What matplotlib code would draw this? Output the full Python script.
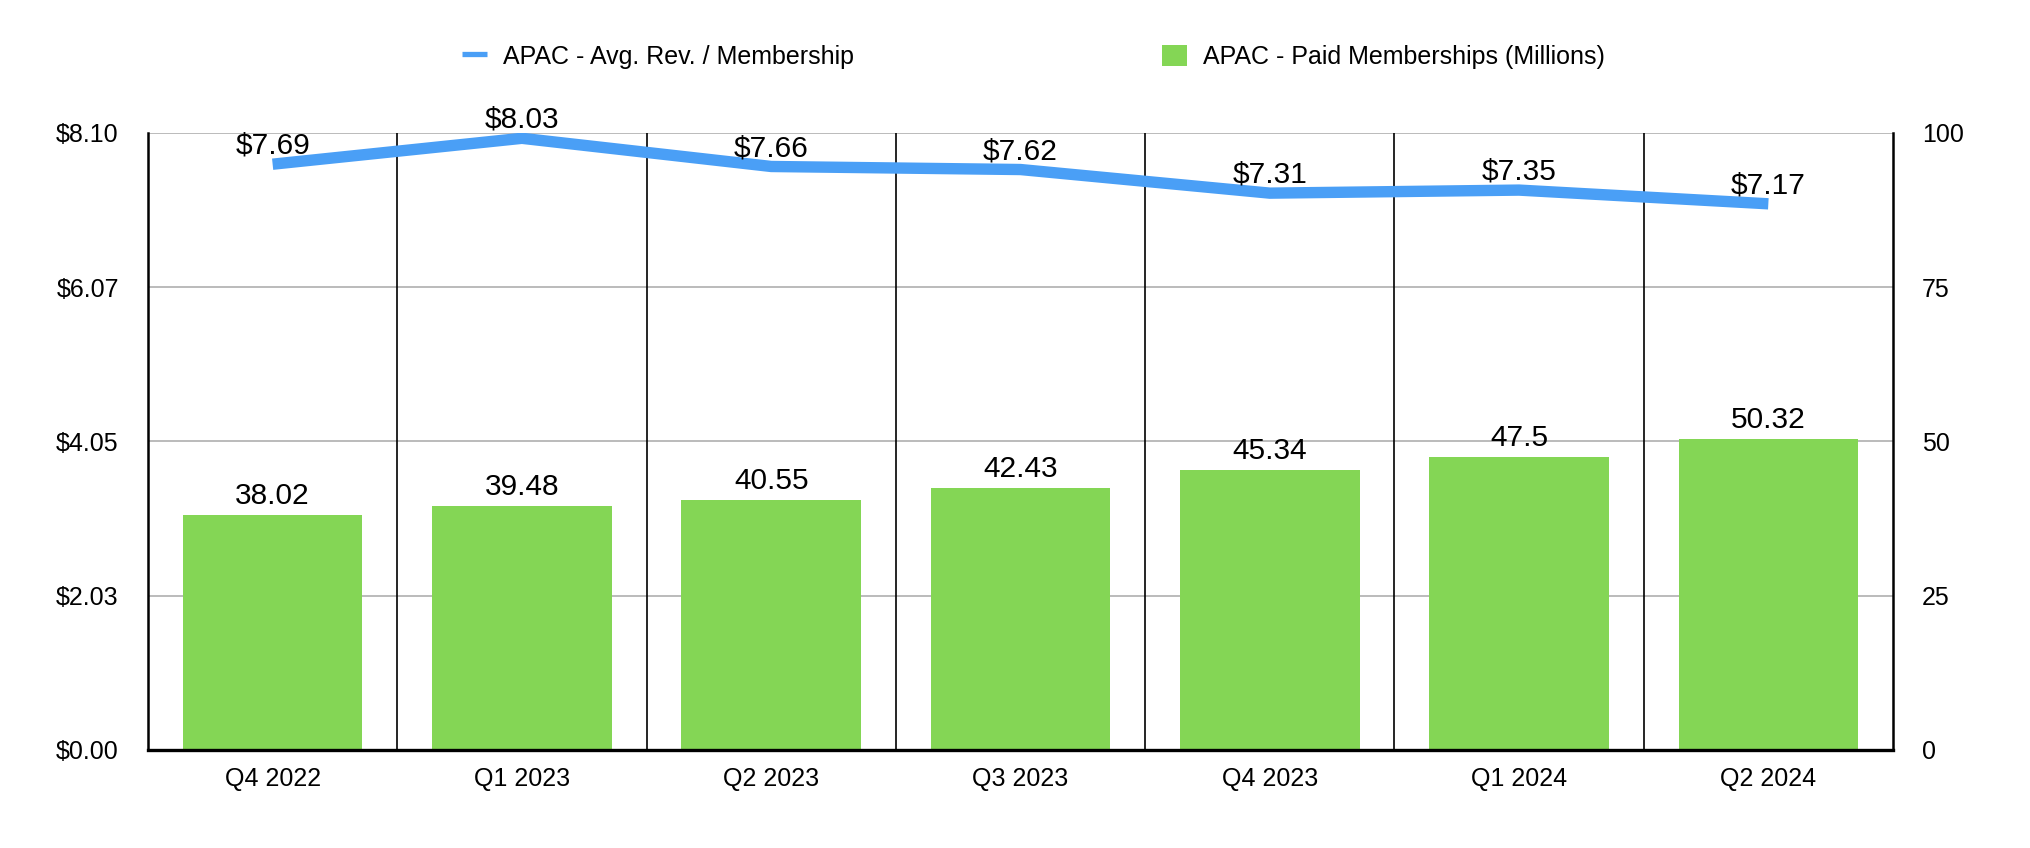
import matplotlib
matplotlib.use('Agg')
import matplotlib.pyplot as plt
from matplotlib.lines import Line2D
from matplotlib.patches import Patch

quarters = ['Q4 2022', 'Q1 2023', 'Q2 2023', 'Q3 2023', 'Q4 2023', 'Q1 2024', 'Q2 2024']
avg_rev = [7.69, 8.03, 7.66, 7.62, 7.31, 7.35, 7.17]
paid_members = [38.02, 39.48, 40.55, 42.43, 45.34, 47.5, 50.32]
left_ticks = [0, 2.025, 4.05, 6.075, 8.10]
left_tick_labels = ['$0.00', '$2.03', '$4.05', '$6.07', '$8.10']
right_ticks = [0, 25, 50, 75, 100]
line_name = 'APAC - Avg. Rev. / Membership'
bar_name = 'APAC - Paid Memberships (Millions)'

BLUE = '#4A9FF6'
GREEN = '#84D655'

plt.rcParams['font.family'] = ['Liberation Sans', 'DejaVu Sans']

fig = plt.figure(figsize=(20.3, 8.48), dpi=100)
ax = fig.add_axes([0.0729, 0.1156, 0.8596, 0.7276])
ax2 = ax.twinx()
x = list(range(len(quarters)))

# Bars (right scale)
ax.bar(x, paid_members, width=0.72, color=GREEN, zorder=2)
ax.set_xlim(-0.5, len(quarters) - 0.5)
ax.set_ylim(0, 100)
ax.set_yticks(right_ticks)
ax.set_yticklabels([str(t) for t in right_ticks])
ax.yaxis.set_ticks_position('right')
ax.yaxis.set_label_position('right')
ax.set_xticks(x)
ax.set_xticklabels(quarters)
ax.set_axisbelow(True)
ax.grid(axis='y', color='#b5b5b5', lw=1.3, zorder=0)
ax.grid(axis='x', visible=False)
for i in range(len(quarters) - 1):
    ax.axvline(i + 0.5, color='black', lw=1.2, zorder=3)
ax.tick_params(axis='y', which='both', left=False, labelleft=False, right=False,
               labelright=True, length=0, labelsize=18, pad=21)
ax.tick_params(axis='x', length=0, labelsize=18, pad=12)
for v_i, v in zip(x, paid_members):
    ax.annotate(f"{v:g}", (v_i, v), xytext=(0, 8), textcoords='offset points',
                ha='center', va='baseline', fontsize=21.5, zorder=5)

ax.spines['top'].set_visible(False)
for s in ['left', 'right']:
    ax.spines[s].set_linewidth(1.8)
    ax.spines[s].set_color('black')
ax.spines['bottom'].set_linewidth(2.4)
ax.spines['bottom'].set_color('black')

# Line (left scale)
ax2.plot(x, avg_rev, color=BLUE, lw=8.2, solid_capstyle='butt', solid_joinstyle='round', zorder=4)
ax2.set_ylim(0, 8.10)
ax2.set_yticks(left_ticks)
ax2.set_yticklabels(left_tick_labels)
ax2.yaxis.set_ticks_position('left')
ax2.yaxis.set_label_position('left')
ax2.tick_params(axis='y', which='both', right=False, labelright=False, left=False,
                labelleft=True, length=0, labelsize=18, pad=21)
for sp in ax2.spines.values():
    sp.set_visible(False)
for v_i, v in zip(x, avg_rev):
    ax2.annotate(f"${v:.2f}", (v_i, v), xytext=(0, 7.5), textcoords='offset points',
                 ha='center', va='baseline', fontsize=21.5, zorder=5)

handles = [Line2D([0], [0], color=BLUE, lw=3.8, solid_capstyle='butt'),
           Patch(facecolor=GREEN, edgecolor='none')]
fig.legend(handles, [line_name, bar_name], loc='center', bbox_to_anchor=(0.509, 0.933),
           ncol=2, frameon=False, fontsize=18, handlelength=1.0, handleheight=0.95,
           handletextpad=0.64, columnspacing=12.3)

fig.savefig('out.png', dpi=100)
